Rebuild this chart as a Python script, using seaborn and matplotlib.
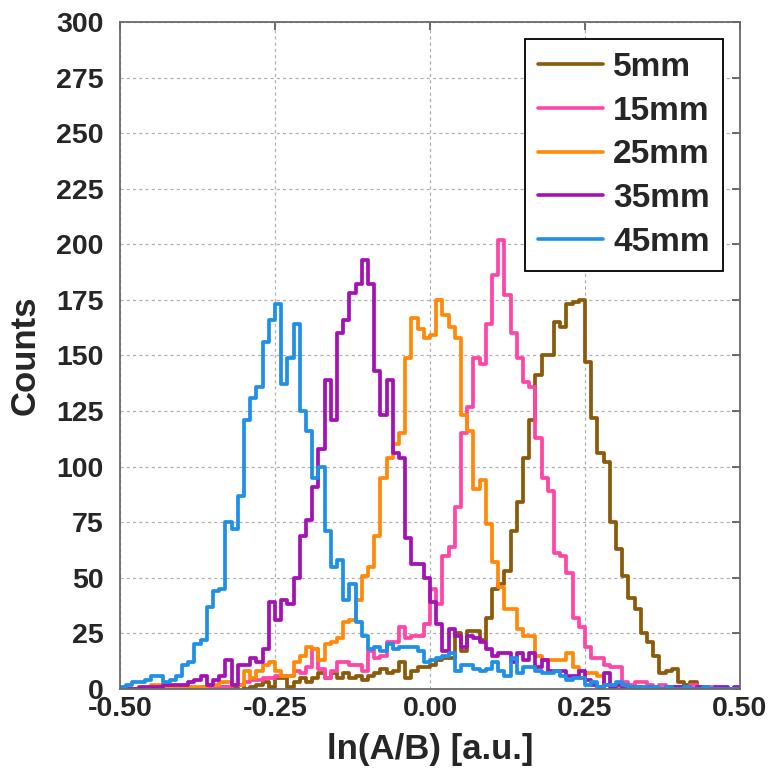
import numpy as np
import pandas as pd
import matplotlib
matplotlib.use("Agg")
import matplotlib.pyplot as plt
from matplotlib.lines import Line2D
import seaborn as sns

# ---- data: counts per bin, 100 bins of width 0.01 from -0.50 to 0.50 ----
bin_lo = -0.5
bin_hi = 0.5
n_bins = 100

labels = ["5mm", "15mm", "25mm", "35mm", "45mm"]
colors = ["#8B5A0B", "#FF45A6", "#FF8A0A", "#A312B3", "#1F90E6"]

counts_5mm = [
    0, 0, 0, 0, 0, 0, 0, 0, 0, 0,
    0, 0, 0, 0, 0, 0, 1, 1, 1, 2,
    0, 1, 2, 3, 1, 5, 5, 1, 3, 5,
    3, 5, 7, 5, 7, 5, 7, 5, 6, 4,
    6, 7, 9, 7, 8, 12, 5, 8, 10, 10,
    11, 13, 14, 14, 25, 17, 26, 26, 22, 32,
    45, 47, 53, 71, 84, 104, 121, 141, 150, 150,
    165, 163, 173, 174, 175, 147, 122, 106, 102, 75,
    63, 51, 41, 36, 25, 21, 15, 7, 8, 9,
    3, 2, 3, 1, 1, 0, 0, 0, 0, 0,
]
counts_15mm = [
    0, 0, 0, 0, 0, 0, 0, 0, 0, 0,
    0, 0, 0, 1, 0, 0, 1, 1, 2, 2,
    3, 4, 4, 5, 5, 6, 6, 6, 8, 7,
    10, 18, 9, 5, 8, 12, 12, 11, 11, 8,
    17, 14, 15, 21, 21, 28, 23, 24, 24, 29,
    45, 38, 60, 64, 82, 115, 127, 149, 146, 164,
    186, 202, 177, 160, 149, 138, 136, 113, 95, 89,
    61, 60, 52, 32, 28, 19, 14, 14, 11, 10,
    10, 3, 2, 3, 3, 2, 1, 2, 1, 1,
    1, 1, 2, 1, 1, 1, 0, 0, 0, 0,
]
counts_25mm = [
    0, 0, 0, 0, 0, 2, 2, 1, 1, 1,
    1, 1, 1, 1, 2, 2, 3, 3, 2, 2,
    8, 5, 8, 11, 12, 8, 6, 6, 12, 15,
    19, 18, 13, 20, 21, 23, 30, 31, 40, 51,
    55, 69, 95, 104, 110, 115, 149, 167, 162, 158,
    159, 175, 168, 163, 158, 123, 116, 90, 94, 74,
    57, 46, 36, 36, 27, 24, 24, 15, 13, 13,
    13, 13, 16, 10, 5, 7, 7, 6, 2, 2,
    1, 1, 1, 0, 1, 1, 1, 0, 1, 0,
    0, 0, 0, 0, 0, 0, 0, 0, 0, 0,
]
counts_35mm = [
    0, 0, 0, 1, 1, 1, 1, 2, 2, 2,
    2, 3, 4, 6, 2, 4, 6, 13, 2, 11,
    11, 14, 12, 18, 39, 31, 40, 38, 50, 69,
    76, 91, 108, 139, 121, 160, 166, 178, 182, 193,
    182, 143, 123, 139, 106, 104, 68, 56, 56, 50,
    39, 29, 17, 27, 24, 19, 24, 23, 21, 18,
    15, 16, 16, 12, 16, 13, 16, 10, 13, 8,
    8, 8, 6, 6, 8, 4, 2, 1, 7, 1,
    2, 0, 1, 1, 0, 1, 0, 0, 1, 1,
    1, 1, 0, 1, 0, 0, 1, 1, 0, 1,
]
counts_45mm = [
    1, 2, 3, 3, 4, 6, 6, 3, 4, 6,
    11, 12, 20, 22, 37, 44, 45, 75, 72, 87,
    121, 131, 136, 156, 166, 173, 137, 149, 164, 125,
    116, 95, 100, 71, 55, 58, 40, 47, 30, 24,
    18, 19, 17, 20, 18, 19, 19, 19, 17, 12,
    13, 14, 15, 16, 8, 11, 11, 9, 8, 9,
    12, 8, 6, 14, 7, 10, 10, 8, 7, 7,
    8, 6, 4, 5, 5, 2, 3, 1, 2, 2,
    3, 2, 1, 1, 1, 1, 1, 0, 1, 0,
    0, 1, 0, 0, 1, 0, 0, 0, 0, 0,
]
all_counts = [counts_5mm, counts_15mm, counts_25mm, counts_35mm, counts_45mm]

x_ticks = [-0.5, -0.25, 0.0, 0.25, 0.5]
x_tick_labels = ["-0.50", "-0.25", "0.00", "0.25", "0.50"]
y_ticks = list(range(0, 301, 25))

# ---- build long-form table ----
bw = (bin_hi - bin_lo) / n_bins
centers = bin_lo + bw * (np.arange(n_bins) + 0.5)
frames = []
for lab, cnt in zip(labels, all_counts):
    frames.append(pd.DataFrame({"x": centers, "w": np.asarray(cnt, float), "series": lab}))
df = pd.concat(frames, ignore_index=True)

# ---- style ----
sns.set_style("white")
plt.rcParams["font.family"] = ["Liberation Sans", "DejaVu Sans"]
plt.rcParams["font.weight"] = "bold"
plt.rcParams["axes.labelweight"] = "bold"

fig = plt.figure(figsize=(7.76, 7.71), dpi=100)
ax = fig.add_axes([0.1546, 0.1064, 0.7990, 0.8651])

lw = 2.7
for lab, col in zip(labels, colors):
    sub = df[df["series"] == lab]
    sns.histplot(data=sub, x="x", weights="w", binwidth=bw, binrange=(bin_lo, bin_hi),
                 element="step", fill=False, color=col, linewidth=lw, ax=ax)

ax.set_xlim(bin_lo, bin_hi)
ax.set_ylim(0, 300)
ax.set_xticks(x_ticks)
ax.set_xticklabels(x_tick_labels)
ax.set_yticks(y_ticks)
ax.set_yticklabels([str(v) for v in y_ticks])

ax.grid(True, color="#b0b0b0", linestyle=(0, (2.5, 2.5)), linewidth=0.9)
ax.set_axisbelow(True)

for sp in ax.spines.values():
    sp.set_visible(True)
    sp.set_color("#6a6a6a")
    sp.set_linewidth(1.3)

ax.tick_params(axis="both", which="major", direction="in", length=6, width=1.2,
               color="#555555", top=True, right=True, labelsize=20.5)
ax.tick_params(axis="y", pad=12)
ax.tick_params(axis="x", pad=5)
for t in ax.get_xticklabels() + ax.get_yticklabels():
    t.set_fontweight("bold")

ax.set_xlabel("ln(A/B) [a.u.]", fontsize=25, fontweight="bold", labelpad=8)
ax.set_ylabel("Counts", fontsize=25, fontweight="bold", labelpad=10)

handles = [Line2D([0], [0], color=c, linewidth=2.6) for c in colors]
leg = ax.legend(handles, labels, loc="upper right", frameon=True,
                fancybox=False, framealpha=1, edgecolor="black",
                handlelength=1.95, handletextpad=0.3, labelspacing=0.38,
                borderpad=0.4, borderaxespad=0.5,
                prop={"weight": "bold", "size": 24})
leg.get_frame().set_linewidth(1.3)

fig.savefig("out.png", dpi=100)
